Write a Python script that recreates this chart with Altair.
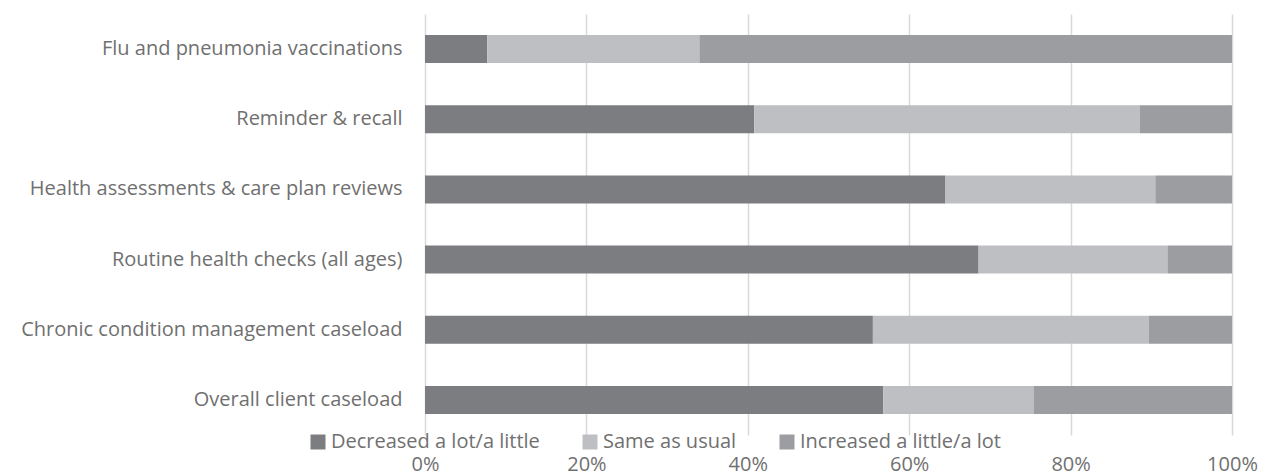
import altair as alt
import pandas as pd

categories = [
    "Flu and pneumonia vaccinations",
    "Reminder & recall ",
    "Health assessments & care plan reviews",
    "Routine health checks (all ages)",
    "Chronic condition management caseload",
    "Overall client caseload",
]
decreased = [7.7, 40.8, 64.5, 68.6, 55.5, 56.8]
same = [26.3, 47.8, 26.0, 23.4, 34.2, 18.6]
increased = [66.0, 11.4, 9.5, 8.0, 10.3, 24.6]
series = ["Decreased a lot/a little", "Same as usual", "Increased a little/a lot"]
colors = ["#7c7d81", "#bebfc2", "#9c9da1"]

rows = []
for i, c in enumerate(categories):
    for k, (s, vals) in enumerate(zip(series, [decreased, same, increased])):
        rows.append({"category": c, "series": s, "value": vals[i] / 100, "order": k})
df = pd.DataFrame(rows)

FONT = "Open Sans"
TXT = "#707070"
FS = 20

chart = alt.Chart(df).mark_bar(size=28).encode(
    y=alt.Y("category:N", sort=categories, title=None,
            axis=alt.Axis(labelFontSize=FS, labelFont=FONT, labelColor=TXT,
                          labelPadding=23, ticks=False, domain=False, grid=False,
                          labelLimit=500)),
    x=alt.X("value:Q", stack="normalize", title=None,
            scale=alt.Scale(domain=[0, 1], nice=False),
            axis=alt.Axis(format="%", values=[0, 0.2, 0.4, 0.6, 0.8, 1.0],
                          labelFontSize=FS, labelFont=FONT, labelColor=TXT,
                          labelPadding=19, ticks=False, domain=False,
                          grid=True, gridColor="#d9d9d9", gridWidth=1.5,
                          labelFlush=False)),
    color=alt.Color("series:N", sort=series,
                    scale=alt.Scale(domain=series, range=colors),
                    legend=alt.Legend(title=None, orient="none", direction="horizontal",
                                      legendX=-117, legendY=418, columns=3,
                                      symbolType="square", symbolSize=225,
                                      symbolStrokeWidth=0, symbolOpacity=1,
                                      labelFontSize=FS, labelFont=FONT, labelColor=TXT,
                                      columnPadding=40, labelOffset=3, labelLimit=400)),
    order=alt.Order("order:Q"),
).properties(
    width=807, height=421,
    autosize=alt.AutoSizeParams(type="none"),
    padding={"left": 425, "top": 14, "right": 37, "bottom": 40},
).configure_view(stroke=None)

chart.save("out.html", embed_options={"renderer": "svg", "actions": False})
